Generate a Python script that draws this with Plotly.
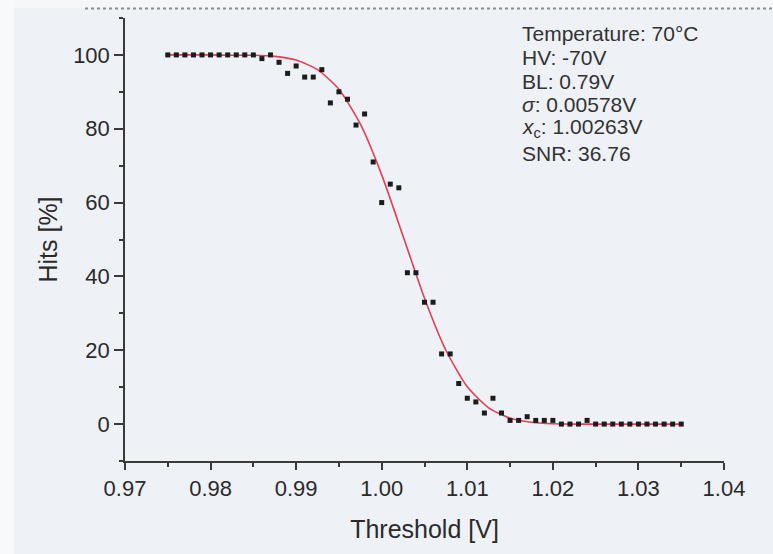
import plotly.graph_objects as go

# ---- data ----
threshold = [round(0.975 + 0.001 * i, 3) for i in range(61)]
hits = [100, 100, 100, 100, 100, 100, 100, 100, 100, 100, 100,   # 0.975-0.985
        99, 100, 98, 95, 97, 94, 94, 96, 87, 90, 88, 81, 84, 71,  # 0.986-0.999
        60, 65, 64, 41, 41, 33, 33, 19, 19, 11, 7, 6, 3, 7, 3,    # 1.000-1.014
        1, 1, 2, 1, 1, 1, 0, 0, 0, 1,                              # 1.015-1.024
        0, 0, 0, 0, 0, 0, 0, 0, 0, 0, 0]                           # 1.025-1.035

fit_x = [0.975, 0.9775, 0.980, 0.9825, 0.985, 0.9875, 0.990, 0.9925, 0.995,
         0.9975, 1.000, 1.0025, 1.005, 1.0075, 1.010, 1.0125, 1.015, 1.0175,
         1.020, 1.0225, 1.025, 1.0275, 1.030, 1.0325, 1.035]
fit_y = [100, 100, 100, 99.9, 99.9, 99.6, 98.6, 96.0, 90.7,
         81.3, 67.5, 50.9, 34.1, 20.0, 10.1, 4.4, 1.6, 0.5,
         0.1, 0, 0, 0, 0, 0, 0]

info_lines = ["Temperature: 70°C", "HV: -70V", "BL: 0.79V",
              "<i>σ</i>: 0.00578V", "<i>x</i><sub>c</sub>: 1.00263V", "SNR: 36.76"]

x_ticks = [0.97, 0.98, 0.99, 1.00, 1.01, 1.02, 1.03, 1.04]
y_ticks = [0, 20, 40, 60, 80, 100]

# ---- layout helpers (pixel -> paper) ----
L, R, T, B = 125, 49, 18, 93
W, H = 773, 554
PW, PH = W - L - R, H - T - B
def px(p):
    return (p - L) / PW
def py(p):
    return (H - B - p) / PH

FONT = "Liberation Sans, Arial, sans-serif"
BG = "#eef1f6"
AX = "#3a3a3a"

fig = go.Figure()
fig.add_trace(go.Scatter(x=fit_x, y=fit_y, mode="lines",
                         line=dict(color="rgb(226,62,84)", width=1.6, shape="spline", smoothing=0.6),
                         hoverinfo="skip", showlegend=False))
fig.add_trace(go.Scatter(x=threshold, y=hits, mode="markers",
                         marker=dict(symbol="square", size=5, color="#1c1c1c"),
                         showlegend=False))

common = dict(showline=True, linecolor=AX, linewidth=1.5, ticks="outside",
              tickcolor=AX, tickwidth=1.5, showgrid=False, zeroline=False,
              tickfont=dict(family=FONT, size=22, color="#2a2a2a"))

fig.update_xaxes(range=[0.97, 1.04], tickvals=x_ticks,
                 ticktext=[f"{v:.2f}" for v in x_ticks], ticklen=7,
                 minor=dict(dtick=0.005, tick0=0.97, ticks="outside", ticklen=4,
                            tickcolor=AX, tickwidth=1.5),
                 title=dict(text="Threshold [V]", font=dict(family=FONT, size=25, color="#2a2a2a"),
                            standoff=20),
                 **common)
fig.update_yaxes(range=[-10, 110], tickvals=y_ticks, ticklen=9,
                 minor=dict(dtick=10, tick0=0, ticks="outside", ticklen=4,
                            tickcolor=AX, tickwidth=1.5),
                 title=dict(text="Hits [%]", font=dict(family=FONT, size=25, color="#2a2a2a"),
                            standoff=8),
                 **common)

line_y = [33, 57, 81, 105, 128, 153]
for txt, yy in zip(info_lines, line_y):
    fig.add_annotation(text=txt, xref="paper", yref="paper", x=px(520), y=py(yy),
                       xanchor="left", yanchor="middle", showarrow=False,
                       font=dict(family=FONT, size=21, color="#333333"))

# left light strip and top cropped-edge artifact
fig.add_shape(type="rect", xref="paper", yref="paper", x0=px(0), x1=px(14), y0=py(H), y1=py(0),
              fillcolor="#f8f9fb", line=dict(width=0), layer="below")
fig.add_shape(type="rect", xref="paper", yref="paper", x0=px(14), x1=px(W), y0=py(8), y1=py(0),
              fillcolor="#f5f7fa", line=dict(width=0), layer="below")
fig.add_shape(type="line", xref="paper", yref="paper", x0=px(85), x1=px(W), y0=py(8.5), y1=py(8.5),
              line=dict(color="#8a8f96", width=2, dash="dot"))

fig.update_layout(width=W, height=H, margin=dict(l=L, r=R, t=T, b=B),
                  paper_bgcolor=BG, plot_bgcolor=BG,
                  font=dict(family=FONT))

fig.write_html("out.html")
